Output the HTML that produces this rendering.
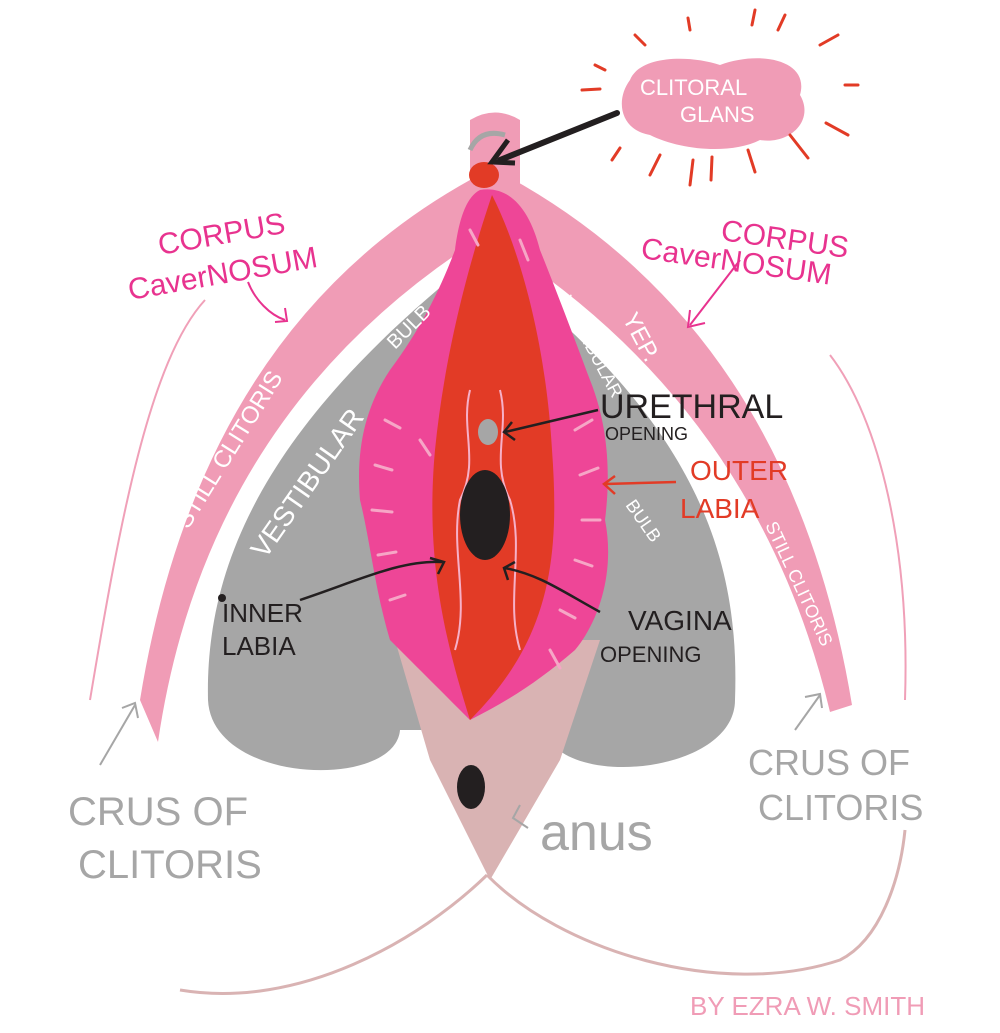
<!DOCTYPE html>
<html><head><meta charset="utf-8"><style>
html,body{margin:0;padding:0;background:#fff;}
svg{display:block;}
text{font-family:"Liberation Sans",sans-serif;}
</style></head><body>
<svg width="1000" height="1033" viewBox="0 0 1000 1033" xmlns="http://www.w3.org/2000/svg">
<rect width="1000" height="1033" fill="#fff"/>
<path d="M205 300 C150 360 120 520 90 700" fill="none" stroke="#f0a0b8" stroke-width="2"/>
<path d="M830 355 C880 420 910 550 905 700" fill="none" stroke="#f0a0b8" stroke-width="2"/>
<path d="M487 875 C420 940 300 1010 180 990" fill="none" stroke="#d9b3b3" stroke-width="3"/>
<path d="M487 875 C560 950 720 1000 840 960 C880 940 900 880 905 830" fill="none" stroke="#d9b3b3" stroke-width="3"/>
<path d="M208 700 C205 560 270 420 480 255 C700 420 740 560 735 700 C735 775 560 790 545 730 L400 730 C395 790 212 785 208 700 Z" fill="#a6a6a6"/>
<path d="M395 640 L600 640 L560 760 L490 880 L430 760 Z" fill="#d9b3b3"/>
<path d="M470 180 Q200 330 140 700 L158 742 Q205 420 470 245 Z" fill="#f09cb6"/>
<path d="M505 175 Q790 330 852 705 L830 712 Q760 420 515 255 Z" fill="#f09cb6"/>
<path d="M470 120 Q495 105 520 120 L520 200 L470 200 Z" fill="#f09cb6"/>
<path d="M470 150 Q480 128 505 135" fill="none" stroke="#a6a6a6" stroke-width="5"/>
<path d="M480 190 C510 185 530 210 540 250 C560 300 575 340 590 380 C610 430 610 480 605 520 C615 570 600 620 575 650 C540 680 510 700 470 720 C440 690 410 660 390 640 C375 590 370 540 360 500 C355 440 370 400 390 370 C420 330 440 290 455 250 C460 210 470 195 480 190 Z" fill="#ee4697"/>
<path d="M492 195 C515 240 545 330 552 450 C560 560 550 640 470 720 C445 640 425 560 435 450 C445 350 470 260 492 195 Z" fill="#e23b26"/>
<g stroke="#f6a6c6" stroke-width="3" stroke-linecap="round">
<path d="M385 420 L400 428"/><path d="M375 465 L392 470"/><path d="M372 510 L392 512"/><path d="M378 555 L396 552"/><path d="M390 600 L405 595"/><path d="M420 440 L430 455"/>
<path d="M575 430 L592 420"/><path d="M580 475 L598 468"/><path d="M582 520 L600 520"/><path d="M575 560 L592 566"/><path d="M560 610 L575 618"/><path d="M550 650 L560 668"/>
<path d="M470 230 L478 245"/><path d="M520 240 L528 260"/>
</g>
<g stroke="#f6b0c8" stroke-width="2" fill="none">
<path d="M470 390 C460 430 480 460 460 500 C450 550 470 600 455 650"/>
<path d="M500 390 C510 430 490 460 510 500 C525 550 505 600 520 650"/>
</g>
<ellipse cx="484" cy="175" rx="15" ry="13" fill="#e23b26"/>
<ellipse cx="488" cy="432" rx="10" ry="13" fill="#a6a6a6"/>
<ellipse cx="485" cy="515" rx="25" ry="45" fill="#231f20"/>
<ellipse cx="471" cy="787" rx="14" ry="22" fill="#231f20"/>
<path d="M630 80 C640 55 690 55 720 65 C760 50 810 60 800 95 C815 120 790 145 760 140 C730 155 680 150 650 135 C620 130 615 100 630 80 Z" fill="#f09cb6"/>
<text x="640" y="95" font-size="22" fill="#fff">CLITORAL</text>
<text x="680" y="122" font-size="22" fill="#fff">GLANS</text>
<g stroke="#e23b26" stroke-width="3" stroke-linecap="round">
<path d="M582 90 L600 89"/><path d="M620 148 L612 160"/><path d="M660 155 L650 175"/><path d="M693 160 L690 185"/><path d="M712 157 L711 180"/><path d="M748 150 L755 172"/><path d="M790 135 L808 158"/><path d="M826 123 L848 135"/><path d="M845 85 L858 85"/><path d="M820 45 L838 35"/><path d="M778 30 L785 15"/><path d="M752 25 L755 10"/><path d="M690 30 L688 18"/><path d="M645 45 L635 35"/><path d="M605 70 L595 65"/>
</g>
<path d="M617 113 L500 160" stroke="#231f20" stroke-width="6" stroke-linecap="round"/>
<path d="M508 140 L492 162 L515 163" fill="none" stroke="#231f20" stroke-width="5"/>
<g fill="#e8338f" font-size="30">
<text x="160" y="255" transform="rotate(-10 160 255)">CORPUS</text>
<text x="130" y="300" transform="rotate(-10 130 300)">CaverNOSUM</text>
<text x="720" y="240" transform="rotate(8 720 240)">CORPUS</text>
<text x="640" y="258" transform="rotate(8 640 258)">CaverNOSUM</text>
</g>
<g stroke="#e8338f" stroke-width="2" fill="none">
<path d="M248 282 C255 300 270 315 285 320"/><path d="M275 322 L287 321 L285 308"/>
<path d="M740 260 L690 325"/><path d="M690 310 L688 327 L705 323"/>
</g>
<g fill="#fff" font-size="24">
<text x="188" y="530" transform="rotate(-58 188 530)">STILL CLITORIS</text>
<text x="265" y="560" transform="rotate(-55 265 560)" font-size="28">VESTIBULAR</text>
<text x="395" y="350" transform="rotate(-45 395 350)" font-size="20">BULB</text>
<text x="622" y="318" transform="rotate(62 622 318)">YEP.</text>
<text x="560" y="300" transform="rotate(62 560 300)" font-size="18">VESTIBULAR</text>
<text x="625" y="505" transform="rotate(55 625 505)" font-size="18">BULB</text>
<text x="765" y="525" transform="rotate(65 765 525)" font-size="18">STILL CLITORIS</text>
</g>
<g fill="#231f20">
<text x="600" y="418" font-size="34">URETHRAL</text>
<text x="605" y="440" font-size="18">OPENING</text>
<text x="222" y="622" font-size="26">INNER</text>
<text x="222" y="655" font-size="26">LABIA</text>
<text x="628" y="630" font-size="28">VAGINA</text>
<text x="600" y="662" font-size="22">OPENING</text>
</g>
<circle cx="222" cy="598" r="4" fill="#231f20"/>
<g fill="#e23b26" font-size="28"><text x="690" y="480">OUTER</text><text x="680" y="518">LABIA</text></g>
<g stroke="#231f20" stroke-width="2.5" fill="none">
<path d="M598 410 L505 432"/><path d="M512 422 L504 432 L515 440"/>
<path d="M300 600 C360 580 400 560 442 562"/><path d="M430 558 L444 562 L438 574"/>
<path d="M600 612 C560 590 540 575 505 568"/><path d="M508 580 L504 568 L515 562"/>
</g>
<g stroke="#e23b26" stroke-width="2.5" fill="none"><path d="M676 482 L605 484"/><path d="M615 476 L604 484 L615 494"/></g>
<g fill="#a6a6a6" font-size="40">
<text x="68" y="825">CRUS OF</text><text x="78" y="878">CLITORIS</text>
<text x="748" y="775" font-size="36">CRUS OF</text><text x="758" y="820" font-size="36">CLITORIS</text>
<text x="540" y="850" font-size="52">anus</text>
</g>
<g stroke="#a6a6a6" stroke-width="2" fill="none">
<path d="M100 765 L135 705"/><path d="M122 708 L135 703 L138 718"/>
<path d="M795 730 L820 695"/><path d="M805 697 L820 694 L822 708"/>
<path d="M528 828 L513 818 L520 805"/>
</g>
<text x="690" y="1015" font-size="26" fill="#f09cb6">BY EZRA W. SMITH</text>
</svg>
</body></html>
